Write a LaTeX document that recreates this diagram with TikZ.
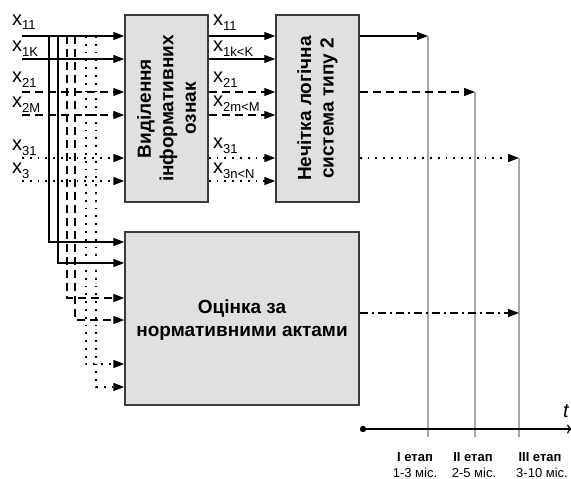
\documentclass[tikz,border=0pt]{standalone}
\usepackage{fontspec}
\setmainfont{Liberation Sans}
\usetikzlibrary{arrows.meta}
\definecolor{boxfill}{HTML}{E0E0E0}
\definecolor{boxline}{HTML}{3A3A3A}
\definecolor{guide}{HTML}{A8A8A8}
\newcommand\xlab[1]{x\raisebox{-5pt}{\fontsize{13}{13}\selectfont #1}}
\begin{document}
\begin{tikzpicture}[x=1pt,y=-1pt,
  arr/.style={-{Triangle[length=11pt,width=8pt]}},
  solidl/.style={line width=1.3pt},
  dashl/.style={line width=1.3pt, dash pattern=on 8pt off 5pt},
  dotl/.style={line width=1.6pt, dash pattern=on 1.8pt off 6pt},
  dashdotl/.style={line width=1.3pt, dash pattern=on 8pt off 4pt on 2pt off 4pt},
  box/.style={draw=boxline, line width=1.5pt, fill=boxfill, inner sep=0pt},
  boxtext/.style={font=\fontsize{19}{22.5}\selectfont\bfseries, align=center, inner sep=0pt},
  lab/.style={font=\fontsize{20}{20}\selectfont, anchor=base west, inner sep=0pt},
  guideline/.style={draw=guide, line width=1.2pt},
  stagetop/.style={font=\fontsize{13}{13}\selectfont\bfseries, anchor=base, inner sep=0pt},
  stagebot/.style={font=\fontsize{13}{13}\selectfont, anchor=base, inner sep=0pt}]
\useasboundingbox (0,0) rectangle (571,479);

% blocks
\node[box, minimum width=83pt, minimum height=187pt] (b1) at (166.5,108.5) {};
\node[boxtext, rotate=90] (t1) at (b1.center) {Виділення\\інформативних\\ознак};
\node[box, minimum width=83pt, minimum height=187pt] (b2) at (317.5,108.5) {};
\node[boxtext, rotate=90] (t2) at (b2.center) {Нечітка логічна\\система типу 2};
\node[box, minimum width=234pt, minimum height=173pt] (b3) at (242,318.5) {};
\node[boxtext] (t3) at (242,320) {Оцінка за\\нормативними актами};

% inputs
\coordinate (i1) at (22,36);
\coordinate (i2) at (22,59);
\coordinate (i3) at (22,92);
\coordinate (i4) at (22,115);
\coordinate (i5) at (22,158);
\coordinate (i6) at (22,181);
\draw[solidl,arr] (i1) -- (i1 -| b1.west);
\draw[solidl,arr] (i2) -- (i2 -| b1.west);
\draw[dashl,arr] (i3) -- (i3 -| b1.west);
\draw[dashl,arr] (i4) -- (i4 -| b1.west);
\draw[dotl,arr] (i5) -- (i5 -| b1.west);
\draw[dotl,arr] (i6) -- (i6 -| b1.west);

% bus to block 3
\coordinate (v1) at (49,36);  \coordinate (w1) at (49,242);
\coordinate (v2) at (58,36);  \coordinate (w2) at (58,263);
\coordinate (v3) at (67,36);  \coordinate (w3) at (67,298);
\coordinate (v4) at (75,36);  \coordinate (w4) at (75,320);
\coordinate (v5) at (86,36);  \coordinate (w5) at (86,364);
\coordinate (v6) at (96,36);  \coordinate (w6) at (96,387);
\draw[solidl,arr] (v1) -- (w1) -- (w1 -| b3.west);
\draw[solidl,arr] (v2) -- (w2) -- (w2 -| b3.west);
\draw[dashl,arr] (v3) -- (w3) -- (w3 -| b3.west);
\draw[dashl,arr] (v4) -- (w4) -- (w4 -| b3.west);
\draw[dotl,arr] (v5) -- (w5) -- (w5 -| b3.west);
\draw[dotl,arr] (v6) -- (w6) -- (w6 -| b3.west);

% block1 -> block2
\draw[solidl,arr] (i1 -| b1.east) -- (i1 -| b2.west);
\draw[solidl,arr] (i2 -| b1.east) -- (i2 -| b2.west);
\draw[dashl,arr] (i3 -| b1.east) -- (i3 -| b2.west);
\draw[dashl,arr] (i4 -| b1.east) -- (i4 -| b2.west);
\draw[dotl,arr] (i5 -| b1.east) -- (i5 -| b2.west);
\draw[dotl,arr] (i6 -| b1.east) -- (i6 -| b2.west);

% labels
\node[lab] (l1) at (12,25) {\xlab{11}};
\node[lab] (l2) at (12,52) {\xlab{1K}};
\node[lab] (l3) at (12,82) {\xlab{21}};
\node[lab] (l4) at (12,107) {\xlab{2M}};
\node[lab] (l5) at (12,150) {\xlab{31}};
\node[lab] (l6) at (12,173) {\xlab{3}};
\node[lab] (m1) at (213,26) {\xlab{11}};
\node[lab] (m2) at (213,52) {\xlab{1k<K}};
\node[lab] (m3) at (213,82) {\xlab{21}};
\node[lab] (m4) at (213,106) {\xlab{2m<M}};
\node[lab] (m5) at (213,148) {\xlab{31}};
\node[lab] (m6) at (213,173) {\xlab{3n<N}};

% outputs and guides
\coordinate (o1) at (428,36);
\coordinate (o2) at (475,92);
\coordinate (o3) at (519,158);
\coordinate (o4) at (519,313);
\coordinate (g1) at (428,437);
\coordinate (g2) at (475,437);
\coordinate (g3) at (519,437);
\draw[guideline] (o1) -- (g1);
\draw[guideline] (o2) -- (g2);
\draw[guideline] (o3) -- (g3);
\draw[solidl,arr] (o1 -| b2.east) -- (o1);
\draw[dashl,arr] (o2 -| b2.east) -- (o2);
\draw[dotl,arr] (o3 -| b2.east) -- (o3);
\draw[dashdotl,arr] (o4 -| b3.east) -- (o4);

% time axis
\coordinate (a0) at (363,429);
\coordinate (a1) at (572,429);
\draw[line width=1.3pt, -{To[length=5pt,width=9pt]}] (a0) -- (a1);
\fill (a0) circle (3.2pt);
\node[font=\fontsize{20}{20}\selectfont\itshape, anchor=base west, inner sep=0pt] (tl) at (563,417) {t};

% stages
\node[stagetop] (s1) at (415,461) {I етап};
\node[stagebot] (d1) at (415,477) {1-3 міс.};
\node[stagetop] (s2) at (473,461) {II етап};
\node[stagebot] (d2) at (474,477) {2-5 міс.};
\node[stagetop] (s3) at (540,461) {III етап};
\node[stagebot] (d3) at (542,477) {3-10 міс.};
\end{tikzpicture}
\end{document}
